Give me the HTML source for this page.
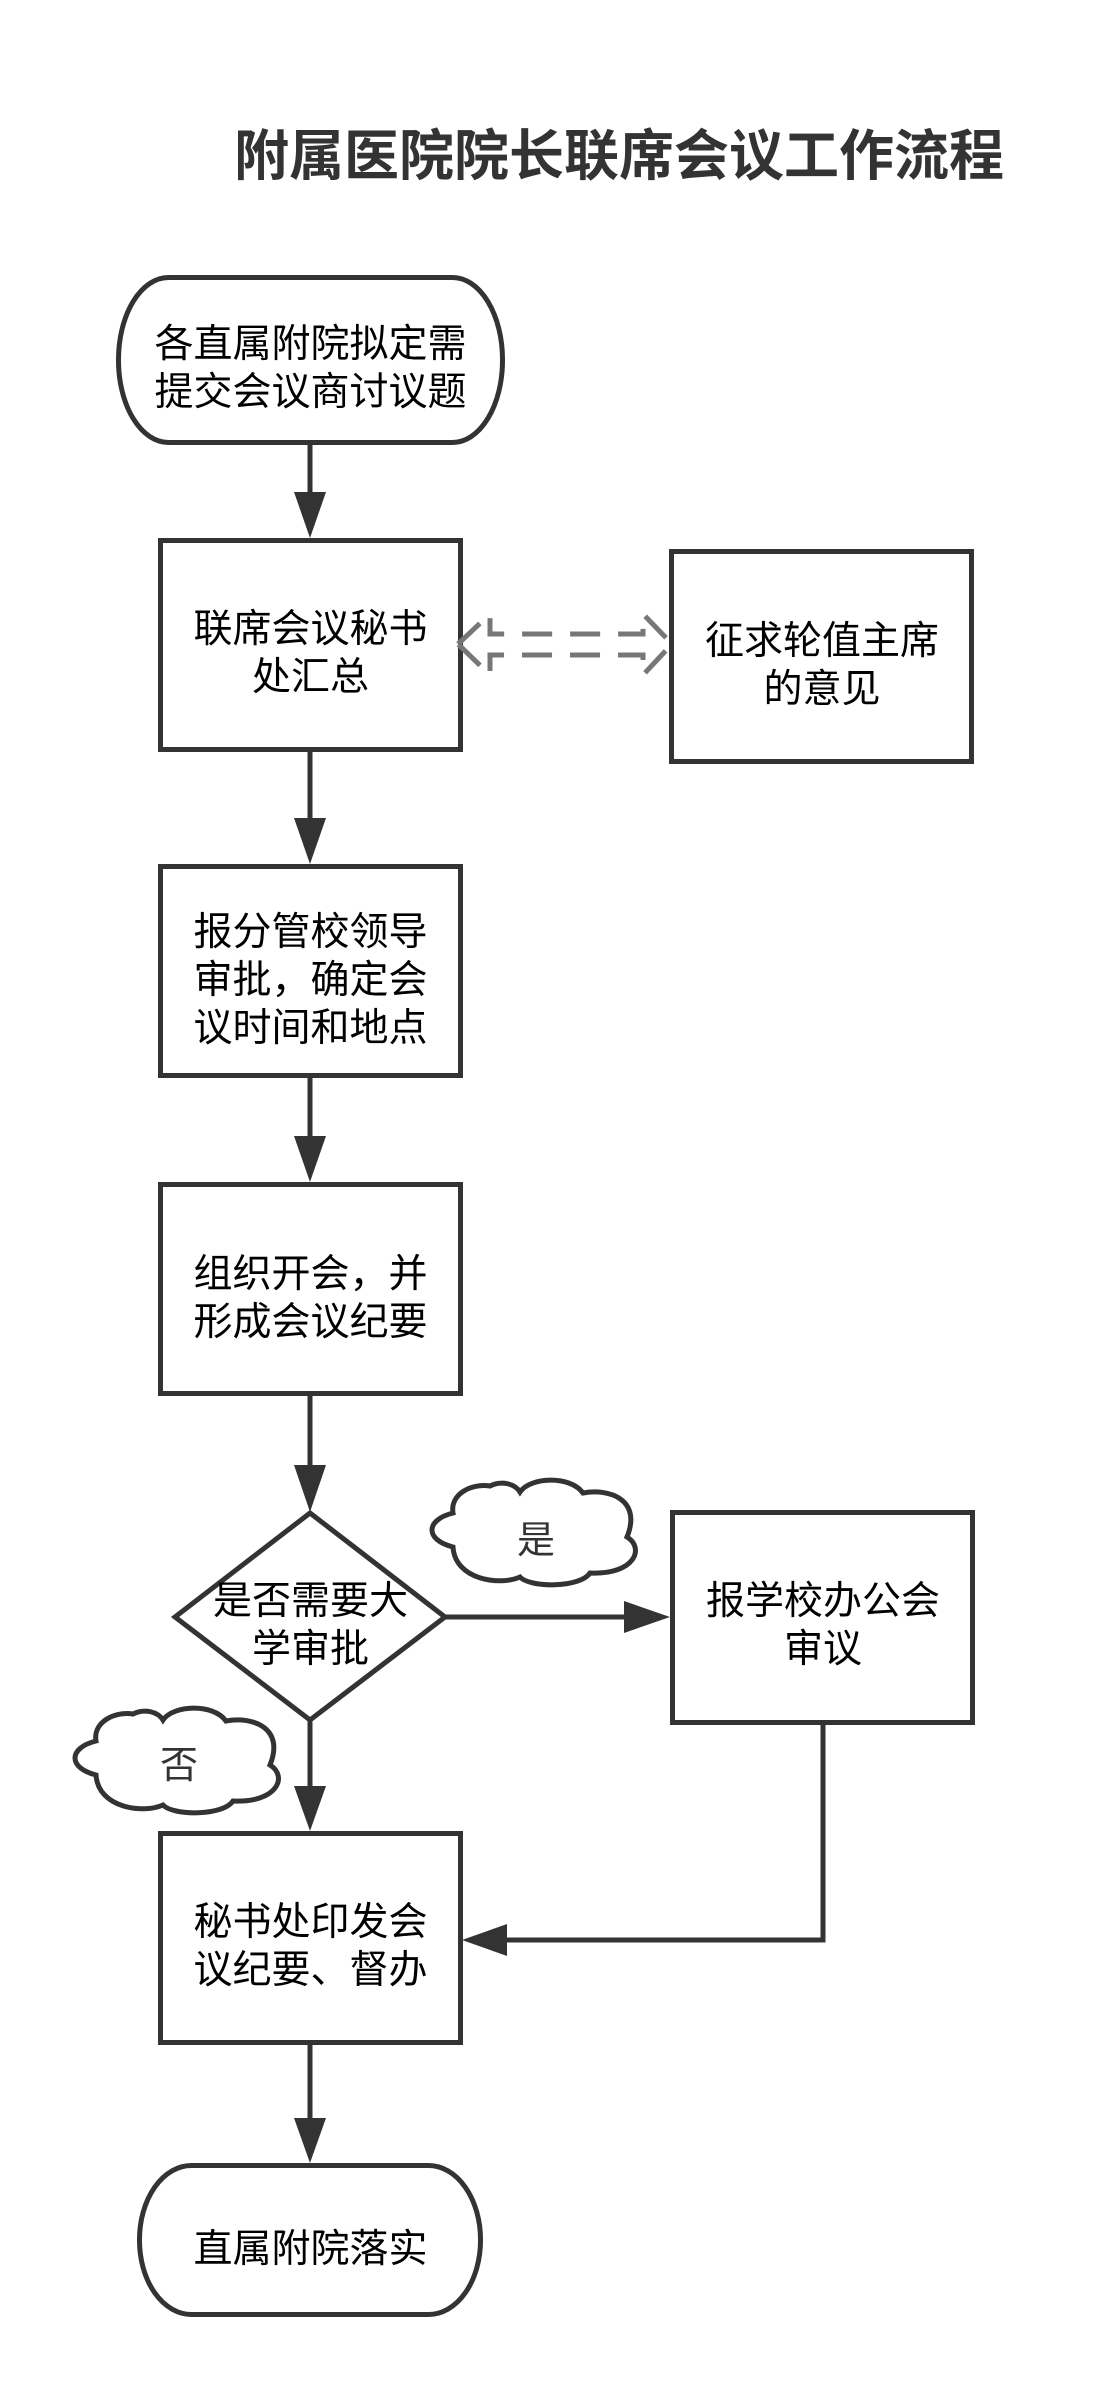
<!DOCTYPE html>
<html>
<head>
<meta charset="utf-8">
<style>
  html, body { margin:0; padding:0; background:#fff; }
  body { width:1093px; height:2391px; overflow:hidden; }
  svg { display:block; }
  .t { font-family: "Liberation Sans", "Noto Sans CJK SC", "WenQuanYi Zen Hei", sans-serif; font-size:39px; fill:#000; text-anchor:middle; }
  .title { font-family: "Liberation Sans", "Noto Sans CJK SC", "WenQuanYi Zen Hei", sans-serif; font-size:55px; font-weight:bold; fill:#333; text-anchor:middle; }
  .c { font-family: "Liberation Sans", "Noto Sans CJK SC", "WenQuanYi Zen Hei", sans-serif; font-size:38px; fill:#333; text-anchor:middle; }
</style>
</head>
<body>
<svg width="1093" height="2391" viewBox="0 0 1093 2391" xmlns="http://www.w3.org/2000/svg">
  <rect x="0" y="0" width="1093" height="2391" fill="#fff"/>

  <!-- Title -->
  <text class="title" x="619" y="175">附属医院院长联席会议工作流程</text>

  <g fill="#fff" stroke="#333" stroke-width="5">
    <!-- start terminator -->
    <rect x="118.5" y="277.5" width="384" height="165" rx="50" ry="82"/>
    <!-- box2 -->
    <rect x="160.5" y="540.5" width="300" height="209"/>
    <!-- right box -->
    <rect x="671.5" y="551.5" width="300" height="210"/>
    <!-- box3 -->
    <rect x="160.5" y="866.5" width="300" height="209"/>
    <!-- box4 -->
    <rect x="160.5" y="1184.5" width="300" height="209"/>
    <!-- diamond -->
    <polygon points="310,1513 445,1617 310,1720 175,1617"/>
    <!-- box5 -->
    <rect x="672.5" y="1512.5" width="300" height="210"/>
    <!-- box6 -->
    <rect x="160.5" y="1833.5" width="300" height="209"/>
    <!-- end terminator -->
    <rect x="139.5" y="2165.5" width="341" height="149" rx="52" ry="74"/>
  </g>

  <!-- connectors -->
  <g stroke="#333" stroke-width="5" fill="none">
    <line x1="310" y1="445" x2="310" y2="495"/>
    <line x1="310" y1="752" x2="310" y2="820"/>
    <line x1="310" y1="1078" x2="310" y2="1138"/>
    <line x1="310" y1="1396" x2="310" y2="1467"/>
    <line x1="446" y1="1617" x2="627" y2="1617"/>
    <line x1="310" y1="1720" x2="310" y2="1788"/>
    <polyline points="823,1725 823,1940 505,1940"/>
    <line x1="310" y1="2045" x2="310" y2="2120"/>
  </g>
  <g fill="#333" stroke="none">
    <polygon points="294,492 326,492 310,538"/>
    <polygon points="294,818 326,818 310,864"/>
    <polygon points="294,1136 326,1136 310,1182"/>
    <polygon points="294,1465 326,1465 310,1512"/>
    <polygon points="624,1601 624,1633 670,1617"/>
    <polygon points="294,1786 326,1786 310,1831"/>
    <polygon points="507,1924 507,1956 462,1940"/>
    <polygon points="294,2118 326,2118 310,2163"/>
  </g>

  <!-- dashed double arrow -->
  <path d="M458,644 L490,614 L490,634 L643,634 L643,614 L672,644 L643,675 L643,655 L490,655 L490,675 Z"
        fill="none" stroke="#777" stroke-width="5" stroke-dasharray="30 18"/>

  <!-- clouds -->
  <g fill="#fff" stroke="#333" stroke-width="5">
    <path transform="translate(430,1480)" d="M23,33 C20,15 40,3 60,6 C72,0 85,4 90,12 C100,-3 140,-5 153,13 C180,8 212,20 197,57 C215,68 205,95 160,93 C150,108 100,108 90,97 C70,106 25,100 23,67 C-5,60 -5,40 23,33 Z"/>
    <path transform="translate(73,1708)" d="M23,33 C20,15 40,3 60,6 C72,0 85,4 90,12 C100,-3 140,-5 153,13 C180,8 212,20 197,57 C215,68 205,95 160,93 C150,108 100,108 90,97 C70,106 25,100 23,67 C-5,60 -5,40 23,33 Z"/>
  </g>
  <text class="c" x="536" y="1553">是</text>
  <text class="c" x="179" y="1778">否</text>

  <!-- node texts -->
  <text class="t" x="310.5" y="357">各直属附院拟定需</text>
  <text class="t" x="310.5" y="405">提交会议商讨议题</text>

  <text class="t" x="310.5" y="642">联席会议秘书</text>
  <text class="t" x="310.5" y="690">处汇总</text>

  <text class="t" x="822" y="654">征求轮值主席</text>
  <text class="t" x="822" y="702">的意见</text>

  <text class="t" x="310.5" y="945">报分管校领导</text>
  <text class="t" x="310.5" y="993">审批，确定会</text>
  <text class="t" x="310.5" y="1041">议时间和地点</text>

  <text class="t" x="310.5" y="1287">组织开会，并</text>
  <text class="t" x="310.5" y="1335">形成会议纪要</text>

  <text class="t" x="310.5" y="1614">是否需要大</text>
  <text class="t" x="310.5" y="1662">学审批</text>

  <text class="t" x="823" y="1614">报学校办公会</text>
  <text class="t" x="823" y="1662">审议</text>

  <text class="t" x="310.5" y="1935">秘书处印发会</text>
  <text class="t" x="310.5" y="1983">议纪要、督办</text>

  <text class="t" x="310.5" y="2262">直属附院落实</text>
</svg>
</body>
</html>
